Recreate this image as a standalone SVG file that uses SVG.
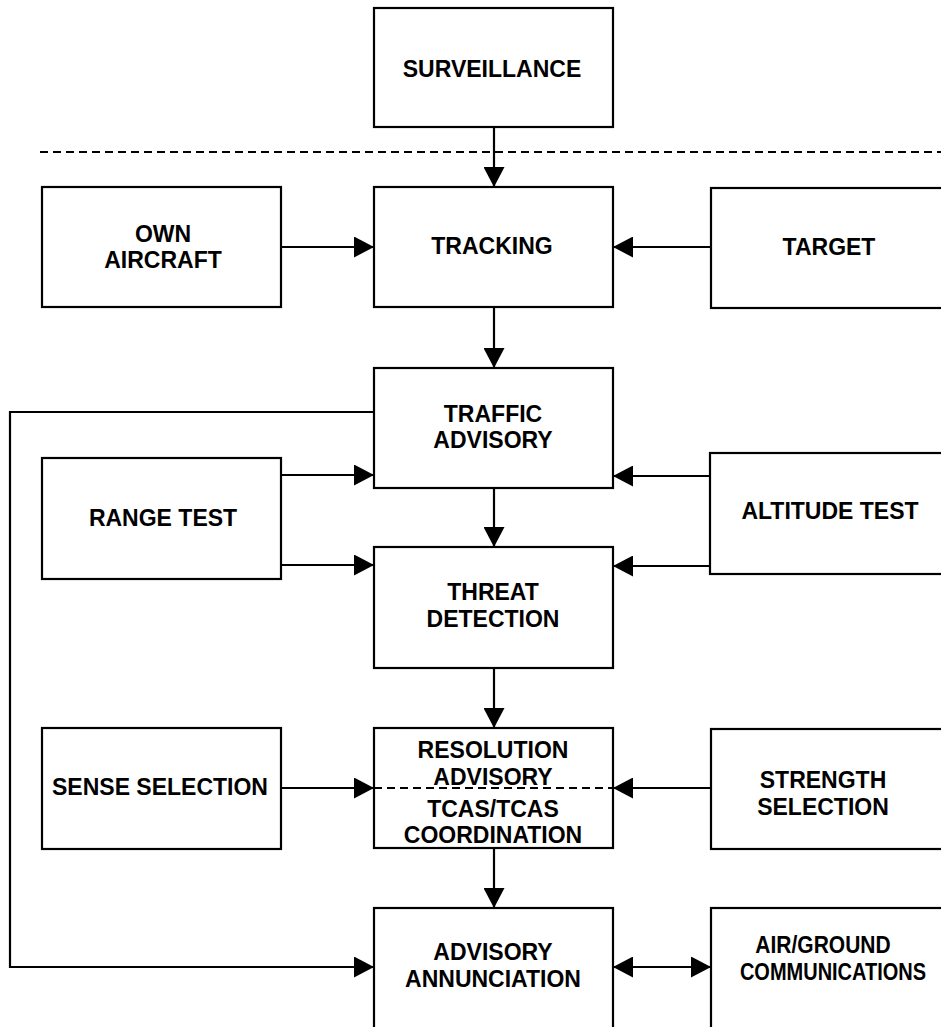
<svg xmlns="http://www.w3.org/2000/svg" width="941" height="1027" viewBox="0 0 941 1027">
<style>
.box{fill:#fff;stroke:#000;stroke-width:2.2}
.t{font-family:"Liberation Sans",Arial,sans-serif;font-weight:bold;font-size:23px;text-anchor:middle;fill:#000}
.c{fill:none;stroke:#000;stroke-width:2.2}
.d{fill:none;stroke:#000;stroke-width:2;stroke-dasharray:8 5}
</style>
<defs>
<marker id="ah" viewBox="0 0 20 21" refX="20" refY="10.5" markerWidth="20" markerHeight="21" markerUnits="userSpaceOnUse" orient="auto-start-reverse">
<path d="M0,0 L20,10.5 L0,21 Z" fill="#000"/>
</marker>
</defs>
<line class="d" x1="40" y1="152" x2="941" y2="152"/>
<g id="surveillance"><rect class="box" x="374" y="8" width="239" height="119"/><text class="t" x="492" y="77">SURVEILLANCE</text></g>
<g id="own-aircraft"><rect class="box" x="42" y="187" width="239" height="120"/><text class="t" x="163" y="242">OWN</text><text class="t" x="163" y="268">AIRCRAFT</text></g>
<g id="tracking"><rect class="box" x="374" y="187" width="239" height="120"/><text class="t" x="492" y="254">TRACKING</text></g>
<g id="target"><rect class="box" x="711" y="188" width="240" height="120"/><text class="t" x="829" y="255">TARGET</text></g>
<g id="traffic-advisory"><rect class="box" x="374" y="368" width="239" height="120"/><text class="t" x="493" y="422">TRAFFIC</text><text class="t" x="493" y="448">ADVISORY</text></g>
<g id="range-test"><rect class="box" x="42" y="458" width="239" height="121"/><text class="t" x="163" y="526">RANGE TEST</text></g>
<g id="altitude-test"><rect class="box" x="710" y="453" width="240" height="121"/><text class="t" x="830" y="519">ALTITUDE TEST</text></g>
<g id="threat-detection"><rect class="box" x="374" y="547" width="239" height="121"/><text class="t" x="493" y="600">THREAT</text><text class="t" x="493" y="627">DETECTION</text></g>
<g id="sense-selection"><rect class="box" x="42" y="728" width="239" height="121"/><text class="t" x="160" y="795">SENSE SELECTION</text></g>
<g id="resolution-advisory"><rect class="box" x="374" y="728" width="239" height="120"/><line class="d" x1="374" y1="788" x2="613" y2="788"/><text class="t" x="493" y="758">RESOLUTION</text><text class="t" x="493" y="785">ADVISORY</text><text class="t" x="493" y="817">TCAS/TCAS</text><text class="t" x="493" y="843">COORDINATION</text></g>
<g id="strength-selection"><rect class="box" x="711" y="729" width="240" height="120"/><text class="t" x="823" y="788">STRENGTH</text><text class="t" x="823" y="815">SELECTION</text></g>
<g id="advisory-annunciation"><rect class="box" x="374" y="908" width="239" height="125"/><text class="t" x="493" y="960">ADVISORY</text><text class="t" x="493" y="987">ANNUNCIATION</text></g>
<g id="air-ground"><rect class="box" x="711" y="908" width="240" height="125"/><text class="t" transform="translate(823,953) scale(1,1.1)" x="0" y="0" style="font-size:21px">AIR/GROUND</text><text class="t" transform="translate(833,980) scale(1,1.15)" x="0" y="0" style="font-size:20px">COMMUNICATIONS</text></g>
<g id="connectors">
<line class="c" x1="494" y1="127" x2="494" y2="187" marker-end="url(#ah)"/>
<line class="c" x1="281" y1="247" x2="374" y2="247" marker-end="url(#ah)"/>
<line class="c" x1="711" y1="247" x2="613" y2="247" marker-end="url(#ah)"/>
<line class="c" x1="494" y1="307" x2="494" y2="368" marker-end="url(#ah)"/>
<line class="c" x1="281" y1="475" x2="374" y2="475" marker-end="url(#ah)"/>
<line class="c" x1="710" y1="476" x2="613" y2="476" marker-end="url(#ah)"/>
<line class="c" x1="494" y1="488" x2="494" y2="547" marker-end="url(#ah)"/>
<line class="c" x1="281" y1="565" x2="374" y2="565" marker-end="url(#ah)"/>
<line class="c" x1="710" y1="566" x2="613" y2="566" marker-end="url(#ah)"/>
<line class="c" x1="494" y1="668" x2="494" y2="728" marker-end="url(#ah)"/>
<line class="c" x1="281" y1="788" x2="374" y2="788" marker-end="url(#ah)"/>
<line class="c" x1="711" y1="788" x2="613" y2="788" marker-end="url(#ah)"/>
<line class="c" x1="494" y1="848" x2="494" y2="908" marker-end="url(#ah)"/>
<polyline class="c" points="374,412 10,412 10,967 374,967" marker-end="url(#ah)"/>
<line class="c" x1="613" y1="967" x2="711" y2="967" marker-start="url(#ah)" marker-end="url(#ah)"/>
</g>
</svg>
